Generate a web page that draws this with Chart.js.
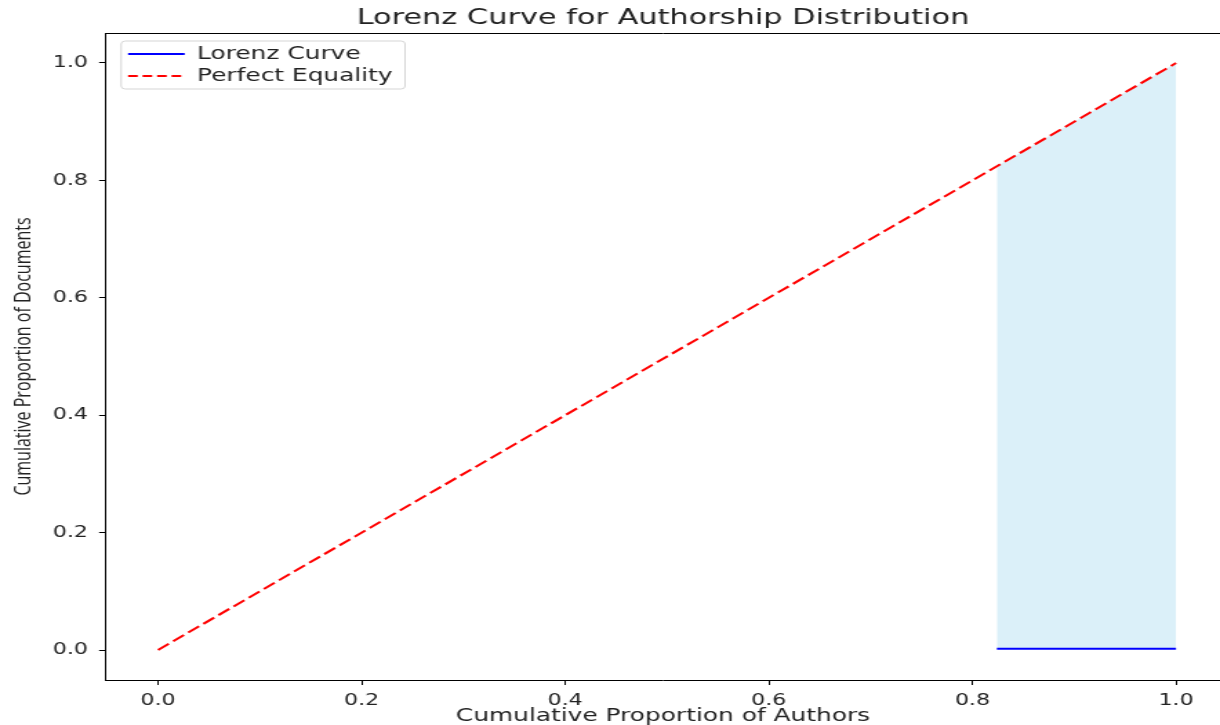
<!DOCTYPE html>
<html>
<head>
<meta charset="utf-8">
<title>Lorenz Curve for Authorship Distribution</title>
<script src="https://cdn.jsdelivr.net/npm/chart.js"></script>
<style>
  html, body { margin: 0; padding: 0; background: #fff; overflow: hidden; }
  #grafico { display: block; width: 1220px; height: 725px; }
</style>
</head>
<body>
<canvas id="grafico" width="884" height="725" style="width:1220px;height:725px"></canvas>
<script>
// Dados
const lorenzX = [0.824, 1.0];
const lorenzY = [0.002, 0.002];
const igualdadeX = [0.0, 1.0];
const igualdadeY = [0.0, 1.0];
const xTicks = [0.0, 0.2, 0.4, 0.6, 0.8, 1.0];
const yTicks = [0.0, 0.2, 0.4, 0.6, 0.8, 1.0];

// faixa sombreada: entre a curva de Lorenz e a linha de igualdade (y = x)
const faixaY = lorenzX.map(x => x);

const pontos = (xs, ys) => xs.map((x, i) => ({ x: x, y: ys[i] }));
const fonte = 'DejaVu Sans';
const corTexto = '#222';

// legenda dentro da área do gráfico: corrige o topo e desenha a moldura
const molduraLegenda = {
    id: 'molduraLegenda',
    afterLayout(chart) {
        const leg = chart.legend;
        const area = chart.chartArea;
        leg.top = area.top + 8;
        leg.bottom = area.bottom;
        leg.left = area.left + 12;
        leg.right = area.right;
    },
    afterDraw(chart) {
        const caixas = chart.legend.legendHitBoxes;
        if (!caixas || !caixas.length) return;
        const esq = Math.min(...caixas.map(c => c.left)) - 5;
        const topo = Math.min(...caixas.map(c => c.top)) - 4;
        const dir = Math.max(...caixas.map(c => c.left + c.width)) + 9;
        const base = Math.max(...caixas.map(c => c.top + c.height)) + 4;
        const ctx = chart.ctx;
        ctx.save();
        ctx.strokeStyle = '#d5d5d5';
        ctx.lineWidth = 1;
        ctx.beginPath();
        ctx.roundRect(esq, topo, dir - esq, base - topo, 3);
        ctx.stroke();
        ctx.restore();
    }
};

const ctx = document.getElementById('grafico').getContext('2d');
new Chart(ctx, {
    type: 'line',
    data: {
        datasets: [
            {
                label: 'Lorenz Curve',
                data: pontos(lorenzX, lorenzY),
                borderColor: 'blue',
                borderWidth: 2,
                pointRadius: 0,
                fill: false,
                order: 1
            },
            {
                label: 'Perfect Equality',
                data: pontos(igualdadeX, igualdadeY),
                borderColor: 'red',
                borderWidth: 2,
                borderDash: [10, 4],
                pointRadius: 0,
                fill: false,
                order: 2
            },
            {
                label: 'area',
                data: pontos(lorenzX, faixaY),
                borderWidth: 0,
                borderColor: 'rgba(0,0,0,0)',
                backgroundColor: 'rgba(135, 206, 235, 0.3)',
                pointRadius: 0,
                fill: { target: 0 },
                order: 3
            }
        ]
    },
    options: {
        responsive: false,
        devicePixelRatio: 1,
        animation: false,
        layout: { padding: { left: 0, right: 0, top: 0, bottom: 0 } },
        plugins: {
            title: {
                display: true,
                text: 'Lorenz Curve for Authorship Distribution',
                color: corTexto,
                fullSize: false,
                font: { family: fonte, size: 22, weight: 'normal', lineHeight: 1.2 },
                padding: { top: 4.8, bottom: 1.8 }
            },
            legend: {
                position: 'chartArea',
                align: 'start',
                labels: {
                    filter: item => item.datasetIndex !== 2,
                    generateLabels: chart => {
                        const itens = Chart.defaults.plugins.legend.labels.generateLabels(chart);
                        itens.forEach(it => {
                            const ds = chart.data.datasets[it.datasetIndex];
                            it.lineDash = ds.borderDash ? [7, 3.5] : [];
                            it.strokeStyle = ds.borderColor;
                            it.lineWidth = 2;
                            it.pointStyle = 'line';
                        });
                        return itens;
                    },
                    usePointStyle: true,
                    pointStyle: 'line',
                    pointStyleWidth: 41,
                    padding: 4,
                    color: corTexto,
                    font: { family: fonte, size: 18 }
                }
            },
            tooltip: { enabled: false }
        },
        scales: {
            x: {
                type: 'linear',
                position: 'bottom',
                min: -0.0511,
                max: 1.0432,
                afterBuildTicks: s => { s.ticks = xTicks.map(v => ({ value: v })); },
                afterFit: s => { s.height = 45; },
                grid: { drawOnChartArea: false, drawTicks: true, tickLength: 5, tickColor: '#000' },
                border: { display: true, color: '#000', width: 1 },
                ticks: {
                    color: corTexto,
                    padding: 6,
                    maxRotation: 0,
                    font: { family: fonte, size: 16 },
                    callback: v => v.toFixed(1)
                },
                title: {
                    display: true,
                    text: 'Cumulative Proportion of Authors',
                    color: corTexto,
                    font: { family: fonte, size: 18, lineHeight: 1.0 },
                    padding: { top: 0, bottom: 0 }
                }
            },
            xTopo: {
                type: 'linear',
                position: 'top',
                min: -0.0511,
                max: 1.0432,
                afterFit: s => { s.height = 0; },
                grid: { display: false, drawTicks: false },
                border: { display: true, color: '#000', width: 1 },
                ticks: { display: false }
            },
            y: {
                type: 'linear',
                position: 'left',
                min: -0.0511,
                max: 1.0511,
                afterBuildTicks: s => { s.ticks = yTicks.map(v => ({ value: v })); },
                afterFit: s => { s.width = 76.8; },
                grid: { drawOnChartArea: false, drawTicks: true, tickLength: 5, tickColor: '#000' },
                border: { display: true, color: '#000', width: 1 },
                ticks: {
                    color: corTexto,
                    padding: 8,
                    font: { family: fonte, size: 16 },
                    callback: v => v.toFixed(1)
                },
                title: {
                    display: true,
                    text: 'Cumulative Proportion of Documents',
                    color: corTexto,
                    font: { family: 'Open Sans', size: 16, lineHeight: 1.2 },
                    padding: { top: 8, bottom: 0 }
                }
            }
        }
    },
    plugins: [molduraLegenda]
});
</script>
</body>
</html>
